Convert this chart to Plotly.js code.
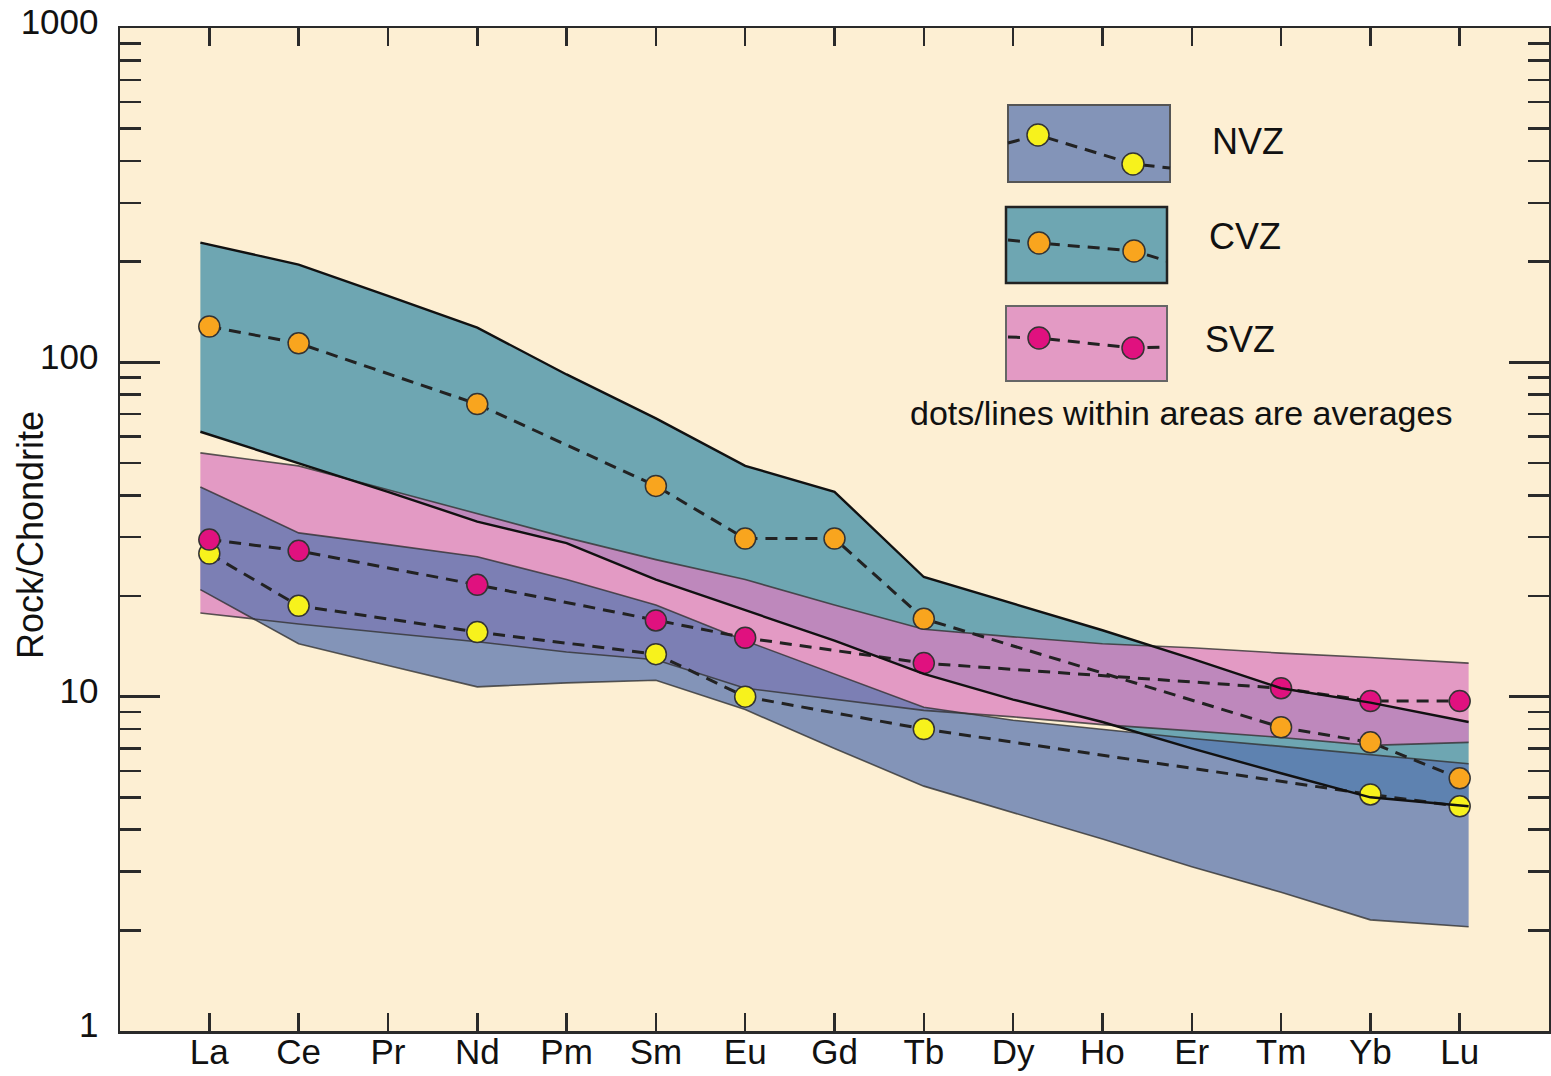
<!DOCTYPE html>
<html><head><meta charset="utf-8">
<script src="https://cdn.plot.ly/plotly-3.0.1.min.js"></script>
<style>html,body{margin:0;padding:0;background:#fff}#chart{width:1551px;height:1076px}</style>
</head><body><div id="chart"></div>
<script>
// ---- data (Rock/Chondrite) ----
const ree = ['La','Ce','Pr','Nd','Pm','Sm','Eu','Gd','Tb','Dy','Ho','Er','Tm','Yb','Lu'];

const cvzUpper = [228,196,158,127,92,68,49,41,22.8,19,15.8,13,10.6,9.6,8.4];
const cvzLower = [62,50,41,33.4,28.8,22.4,18.1,14.7,11.7,9.8,8.4,7.0,5.9,5.0,4.7];
const svzUpper = [53.6,49,41.6,35.2,29.9,25.7,22.4,18.8,15.9,15.1,14.4,14.0,13.5,13.1,12.6];
const svzLower = [17.8,16.5,15.5,14.6,13.6,12.9,10.6,9.8,9.1,8.7,8.25,7.9,7.55,7.15,7.3];
const nvzUpper = [42.4,30.9,28.5,26.2,22.4,18.8,14.7,11.7,9.3,8.5,8.0,7.5,7.1,6.7,6.3];
const nvzLower = [20.9,14.4,12.4,10.7,11.0,11.2,9.15,7.0,5.4,4.5,3.75,3.1,2.6,2.15,2.05];

const cvzMean = [128,114,null,75,null,42.7,29.7,29.7,17.1,null,null,null,8.1,7.3,5.7];
const svzMean = [29.5,27.3,null,21.6,null,16.9,15.0,null,12.6,null,null,null,10.6,9.7,9.7];
const nvzMean = [26.8,18.7,null,15.6,null,13.4,10.0,null,8.0,null,null,null,null,5.1,4.7];

const yTickVals = [1,10,100,1000];
const yTickText = ['1','10','100','1000'];
const legendNames = ['NVZ','CVZ','SVZ'];
const noteText = 'dots/lines within areas are averages';

// ---- styles ----
const FONT = '"Liberation Sans", Arial, Helvetica, sans-serif';
const BG = '#FDEFD3';
const fillN = 'rgba(90,118,175,0.75)';
const fillC = 'rgba(62,142,167,0.75)';
const fillS = 'rgba(217,126,191,0.75)';
const dotN = '#F7F21C', dotC = '#F9A51E', dotS = '#E0117F';
const W = 1551, H = 1076, ML = 120, MR = 2, MT = 28, MB = 45;
const PW = W - ML - MR, PH = H - MT - MB;
const px = x => (x - ML) / PW;
const py = y => (MT + PH - y) / PH;

const idx = ree.map((_, i) => i);
const PAD = 0.1;
const bandX = idx.map(i => i === 0 ? i - PAD : (i === idx.length - 1 ? i + PAD : i));
const DASH = '12px,8px';

function band(upper, lower, color) {
  return {
    x: bandX.concat(bandX.slice().reverse()),
    y: upper.concat(lower.slice().reverse()),
    type: 'scatter', mode: 'lines', fill: 'toself', fillcolor: color,
    line: {width: 0, color: 'rgba(0,0,0,0)'}, hoverinfo: 'skip', showlegend: false
  };
}
function edge(vals, color, width) {
  return {x: bandX, y: vals, type: 'scatter', mode: 'lines',
    line: {color: color, width: width}, hoverinfo: 'skip', showlegend: false};
}
function mean(vals, color) {
  return {x: idx, y: vals, type: 'scatter', mode: 'lines+markers', connectgaps: true,
    line: {color: '#222', width: 3, dash: DASH},
    marker: {size: 21, color: color, line: {color: '#333', width: 1.5}},
    showlegend: false};
}

const traces = [
  band(cvzUpper, cvzLower, fillC),
  band(svzUpper, svzLower, fillS),
  band(nvzUpper, nvzLower, fillN),
  edge(svzUpper, 'rgba(50,50,50,0.8)', 1.6),
  edge(svzLower, 'rgba(50,50,50,0.8)', 1.6),
  edge(nvzUpper, 'rgba(50,50,50,0.8)', 1.6),
  edge(nvzLower, 'rgba(50,50,50,0.8)', 1.6),
  mean(nvzMean, dotN),
  mean(svzMean, dotS),
  mean(cvzMean, dotC),
  edge(cvzUpper, '#111', 2.4),
  edge(cvzLower, '#111', 2.4)
];

// ---- custom legend (pixel layout) ----
const legendBoxes = [
  {x0:1008, x1:1170, y0:105, y1:182, fill:fillN, border:'#555', bw:2,
   line:[[1008,143],[1038,135],[1133,164],[1170,168]], dot:dotN, lx:1210, ly:142},
  {x0:1006, x1:1167, y0:207, y1:283, fill:fillC, border:'#222', bw:2.5,
   line:[[1008,240],[1039,243],[1134,251],[1167,261]], dot:dotC, lx:1207, ly:237},
  {x0:1006, x1:1167, y0:306, y1:381, fill:fillS, border:'#666', bw:2,
   line:[[1008,337],[1039,338],[1133,348],[1167,347]], dot:dotS, lx:1203, ly:339}
];
const shapes = [], annotations = [];
legendBoxes.forEach((b, k) => {
  shapes.push({type:'rect', xref:'paper', yref:'paper', layer:'below',
    x0:px(b.x0), x1:px(b.x1), y0:py(b.y1), y1:py(b.y0),
    fillcolor:b.fill, line:{color:b.border, width:b.bw}});
  traces.push({x: b.line.map(p => px(p[0])), y: b.line.map(p => py(p[1])),
    xaxis:'x2', yaxis:'y2', type:'scatter', mode:'lines',
    line:{color:'#222', width:3, dash:DASH}, hoverinfo:'skip', showlegend:false});
  traces.push({x: b.line.slice(1,3).map(p => px(p[0])), y: b.line.slice(1,3).map(p => py(p[1])),
    xaxis:'x2', yaxis:'y2', type:'scatter', mode:'markers',
    marker:{size:22, color:b.dot, line:{color:'#333', width:1.5}}, hoverinfo:'skip', showlegend:false});
  annotations.push({xref:'paper', yref:'paper', x:px(b.lx), y:py(b.ly), xanchor:'left', yanchor:'middle',
    text:legendNames[k], showarrow:false, font:{family:FONT, size:36, color:'#111'}});
});
annotations.push({xref:'paper', yref:'paper', x:px(1181), y:py(413), xanchor:'center', yanchor:'middle',
  text:noteText, showarrow:false, font:{family:FONT, size:34, color:'#111'}});
annotations.push({xref:'paper', yref:'paper', x:px(30), y:py(535), xanchor:'center', yanchor:'middle',
  text:'Rock/Chondrite', textangle:-90, showarrow:false, font:{family:FONT, size:36, color:'#111'}});

const minorVals = [];
[1,10,100].forEach(d => { for (let m = 2; m <= 9; m++) minorVals.push(m * d); });

const layout = {
  width: W, height: H,
  margin: {l: ML, r: MR, t: MT, b: MB, pad: 0},
  paper_bgcolor: '#fff', plot_bgcolor: BG,
  showlegend: false,
  font: {family: FONT, color: '#111'},
  xaxis: {
    range: [-1, 15], tickmode: 'array', tickvals: idx, ticktext: ree,
    ticks: 'inside', ticklen: 18, tickwidth: 2.5, tickcolor: '#2a2a2a',
    showline: true, linewidth: 2.5, linecolor: '#2a2a2a', mirror: 'ticks',
    showgrid: false, zeroline: false, tickfont: {family: FONT, size: 35, color: '#111'},
    ticklabelstandoff: -12
  },
  yaxis: {
    type: 'log', range: [0, 3], tickmode: 'array', tickvals: yTickVals, ticktext: yTickText,
    ticks: 'inside', ticklen: 40, tickwidth: 2.5, tickcolor: '#2a2a2a',
    minor: {tickmode: 'array', tickvals: minorVals, ticks: 'inside', ticklen: 21, tickwidth: 2.5, tickcolor: '#2a2a2a', showgrid: false},
    showline: true, linewidth: 2.5, linecolor: '#2a2a2a', mirror: 'ticks',
    showgrid: false, zeroline: false, tickfont: {family: FONT, size: 35, color: '#111'},
    ticklabelstandoff: 12, ticklabelshift: -6
  },
  xaxis2: {overlaying: 'x', range: [0, 1], visible: false, fixedrange: true},
  yaxis2: {overlaying: 'y', range: [0, 1], visible: false, fixedrange: true},
  shapes: shapes,
  annotations: annotations
};

Plotly.newPlot('chart', traces, layout, {displayModeBar: false, staticPlot: true});
</script></body></html>
